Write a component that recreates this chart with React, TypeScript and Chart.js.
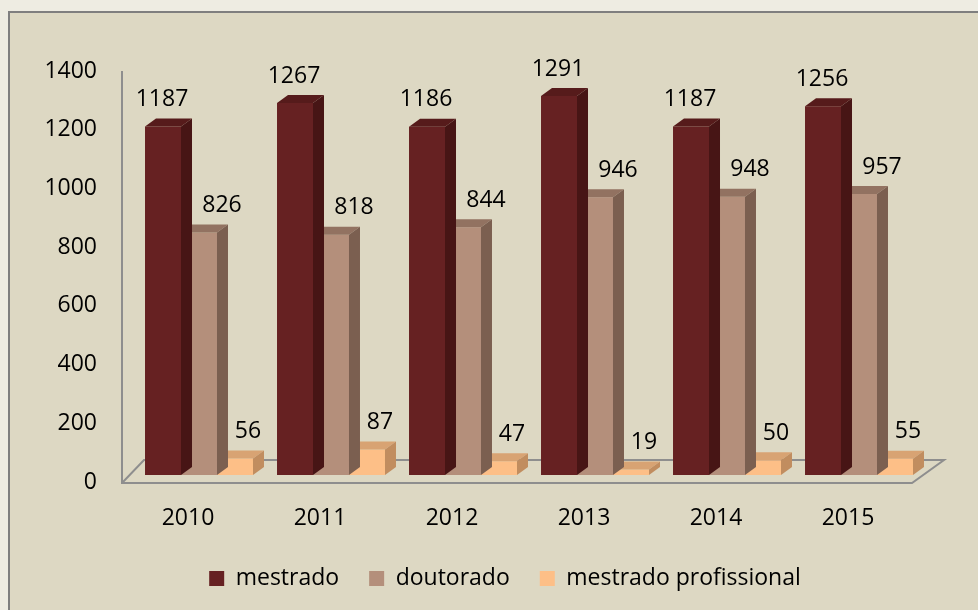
import { useEffect, useRef } from "react";
import { Chart, registerables } from "chart.js";

Chart.register(...registerables);

const categories = ["2010", "2011", "2012", "2013", "2014", "2015"];
const mestrado = [1187, 1267, 1186, 1291, 1187, 1256];
const doutorado = [826, 818, 844, 946, 948, 957];
const mestradoProfissional = [56, 87, 47, 19, 50, 55];
const seriesNames = ["mestrado", "doutorado", "mestrado profissional"];

const frontColors = ["#662122", "#b48f7b", "#fdbf87"];
const topColors = ["#561b1b", "#927261", "#d8a373"];
const sideColors = ["#471515", "#7b5f50", "#c18d5f"];
const labelDx = [-1, 23, 13];
const DX = 11;
const DY = -8;
const FONT = "'Open Sans', sans-serif";

function poly(ctx: CanvasRenderingContext2D, pts: number[][], color: string) {
  ctx.beginPath();
  ctx.moveTo(pts[0][0], pts[0][1]);
  for (let i = 1; i < pts.length; i++) ctx.lineTo(pts[i][0], pts[i][1]);
  ctx.closePath();
  ctx.fillStyle = color;
  ctx.fill();
}

const wallsPlugin = {
  id: "walls",
  beforeDatasetsDraw(chart: any) {
    const { ctx, chartArea } = chart;
    const xL = chartArea.left - 11;
    const yF = chartArea.bottom + 8;
    const yT = chartArea.top + 7;
    const xR = chartArea.right - 13;
    const yB = yF - 23;
    const xBL = xL + 22;
    const xBR = xR + 32;
    ctx.save();
    ctx.strokeStyle = "#8e8e8e";
    ctx.lineWidth = 2;
    ctx.beginPath();
    ctx.moveTo(xL, yT);
    ctx.lineTo(xL, yF);
    ctx.lineTo(xR, yF);
    ctx.lineTo(xBR, yB);
    ctx.lineTo(xBL, yB);
    ctx.lineTo(xL, yF);
    ctx.stroke();
    ctx.restore();
  },
};

const threeDPlugin = {
  id: "threeD",
  afterDatasetDraw(chart: any, args: any) {
    const ctx = chart.ctx as CanvasRenderingContext2D;
    const i = args.index;
    ctx.save();
    args.meta.data.forEach((bar: any) => {
      const { x, y, base, width } = bar.getProps(["x", "y", "base", "width"], true);
      const l = x - width / 2;
      const r = x + width / 2;
      poly(ctx, [[l, y], [l + DX, y + DY], [r + DX, y + DY], [r, y]], topColors[i]);
      poly(ctx, [[r, y], [r + DX, y + DY], [r + DX, base + DY], [r, base]], sideColors[i]);
    });
    ctx.restore();
  },
};

const labelsPlugin = {
  id: "valueLabels",
  afterDatasetsDraw(chart: any) {
    const ctx = chart.ctx as CanvasRenderingContext2D;
    ctx.save();
    ctx.font = `23px ${FONT}`;
    ctx.fillStyle = "#000000";
    ctx.textAlign = "center";
    ctx.textBaseline = "middle";
    chart.data.datasets.forEach((ds: any, i: number) => {
      const meta = chart.getDatasetMeta(i);
      meta.data.forEach((bar: any, j: number) => {
        ctx.fillText(String(ds.data[j]), bar.x + labelDx[i], bar.y - 27);
      });
    });
    ctx.restore();
  },
};

export default function App() {
  const ref = useRef<HTMLCanvasElement | null>(null);

  useEffect(() => {
    if (!ref.current) return;
    const chart = new Chart(ref.current, {
      type: "bar",
      data: {
        labels: categories,
        datasets: [mestrado, doutorado, mestradoProfissional].map((d, i) => ({
          label: seriesNames[i],
          data: d,
          backgroundColor: frontColors[i],
          borderWidth: 0,
          barPercentage: 1,
          categoryPercentage: 0.818,
        })),
      },
      options: {
        animation: false,
        responsive: false,
        maintainAspectRatio: false,
        layout: { padding: { left: 32, right: 0, top: 64, bottom: 10 } },
        plugins: {
          tooltip: { enabled: false },
          legend: {
            position: "bottom",
            labels: {
              boxWidth: 15,
              boxHeight: 15,
              padding: 30,
              color: "#000000",
              font: { family: FONT, size: 23 },
            },
          },
        },
        scales: {
          x: {
            grid: { display: false, drawTicks: false },
            border: { display: false },
            ticks: {
              color: "#000000",
              font: { family: FONT, size: 23 },
              padding: 30,
              labelOffset: -11,
              maxRotation: 0,
            },
            afterFit: (s: any) => {
              s.height = 62;
            },
          },
          y: {
            min: 0,
            max: 1400,
            grid: { display: false, drawTicks: false },
            border: { display: false },
            ticks: {
              stepSize: 200,
              color: "#000000",
              font: { family: FONT, size: 23 },
              padding: 36,
              labelOffset: 7,
              callback: (v: any) => String(v),
            },
            afterFit: (s: any) => {
              s.width = 101;
            },
          },
          spacer: {
            type: "linear",
            position: "right",
            display: true,
            grid: { display: false, drawTicks: false },
            border: { display: false },
            ticks: { display: false },
            afterFit: (s: any) => {
              s.width = 53;
            },
          },
        },
      },
      plugins: [wallsPlugin, threeDPlugin, labelsPlugin],
    });
    return () => chart.destroy();
  }, []);

  return (
    <div
      style={{
        position: "fixed",
        left: 0,
        top: 0,
        width: 978,
        height: 610,
        overflow: "hidden",
        background: "#eeece2",
      }}
    >
      <div
        style={{
          position: "absolute",
          left: 8,
          top: 11,
          width: 1100,
          height: 800,
          border: "2px solid #7f7f7f",
          background: "#ddd8c3",
        }}
      />
      <canvas
        ref={ref}
        width={978}
        height={610}
        style={{ position: "absolute", left: 0, top: 0, width: 978, height: 610 }}
      />
    </div>
  );
}
